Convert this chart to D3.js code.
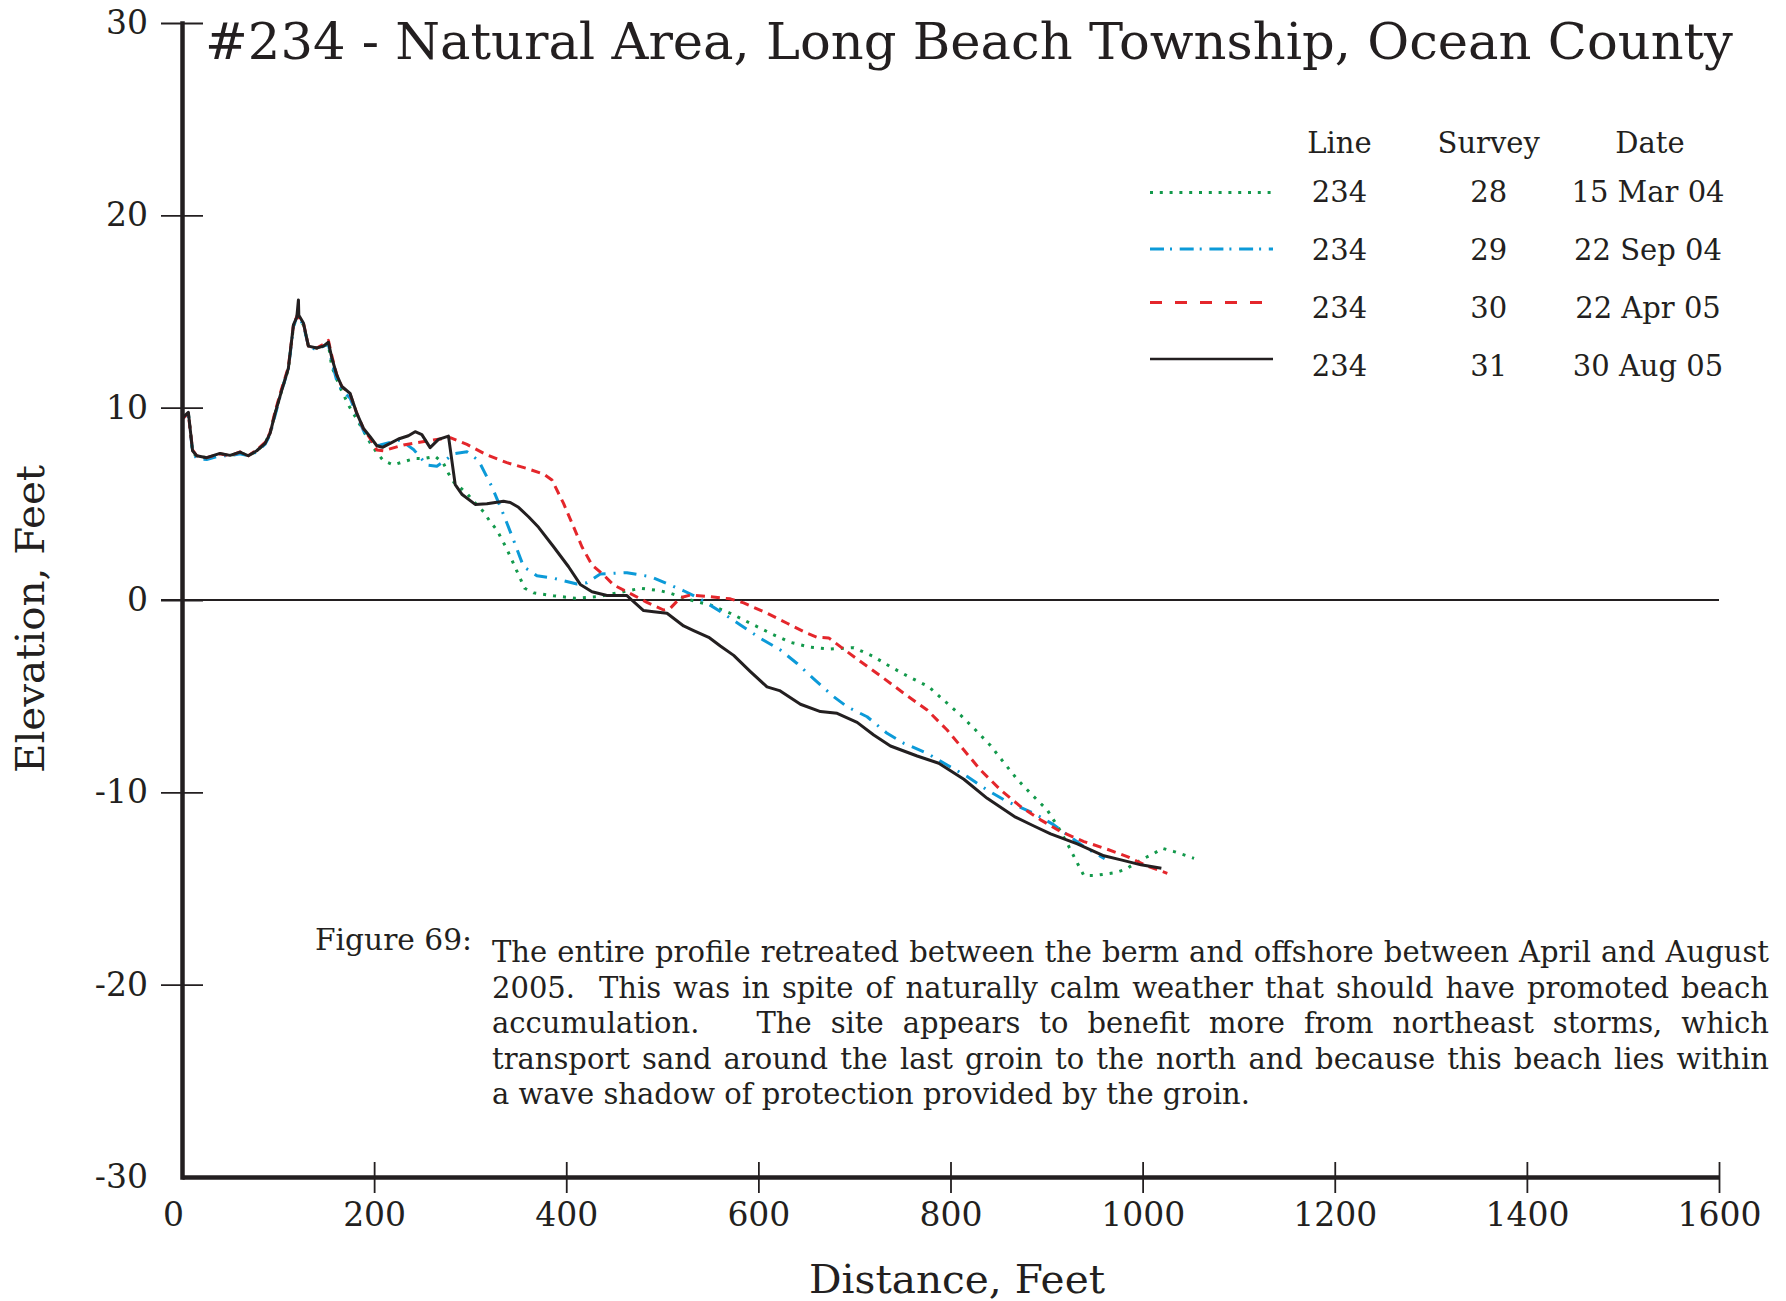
<!DOCTYPE html>
<html>
<head>
<meta charset="utf-8">
<title>#234 - Natural Area, Long Beach Township, Ocean County</title>
<script src="https://cdn.jsdelivr.net/npm/d3@7"></script>
<style>
  html, body { margin: 0; padding: 0; background: #fff; }
  svg { display: block; }
  text { font-family: "DejaVu Serif", "Liberation Serif", serif; fill: #231f20; }
</style>
</head>
<body>
<svg id="chart" width="1786" height="1301"></svg>
<script>
// ---- Profile data: [distance (ft), elevation (ft)] ----
const survey28 = [
  [0,9.4],[6.6,9.7],[11,7.7],[15.3,7.45],[25.7,7.4],[39.6,7.6],[50,7.5],[60.4,7.65],[69,7.5],[77.8,7.75],
  [86.5,8.15],[91.7,8.7],[96.9,9.7],[103.8,10.9],[110.7,12.0],[116,14.2],[120,14.8],[126.4,14.3],
  [131.6,13.2],[140.3,13.1],[147.2,13.2],[152.4,13.3],[155.9,12.13],[165,11.0],[174.3,10.05],
  [185.4,9.1],[195.8,8.18],[202.8,7.66],[209.7,7.24],[220.1,7.02],[230.6,7.19],[242.7,7.36],
  [251.4,7.35],[263.5,7.47],[272.2,7.1],[277.4,6.58],[283,6.12],[296.6,5.54],[307,4.94],[313.9,4.59],
  [320.8,4.07],[327.8,3.64],[338.2,2.65],[343.4,2.08],[348.6,1.5],[356.8,0.61],[366,0.37],[386.8,0.22],
  [409.4,0.09],[432,0.17],[454.6,0.38],[477.6,0.61],[498.1,0.48],[508.3,0.35],[529.2,0],[550,-0.26],
  [570.8,-0.69],[591.7,-1.21],[612.5,-1.73],[633.3,-2.2],[654.2,-2.46],[675,-2.55],[699.3,-2.48],
  [718.4,-2.9],[737.5,-3.47],[756.6,-3.99],[777.4,-4.51],[794.8,-5.29],[810.4,-5.98],[826.1,-6.76],
  [841.7,-7.57],[855.5,-8.45],[869.4,-9.32],[885,-10.14],[900.6,-10.91],[912.8,-11.87],[923.2,-12.82],
  [933.6,-13.83],[938.9,-14.33],[949.3,-14.33],[959.7,-14.26],[972.1,-14.17],[982.5,-14.0],
  [991.2,-13.72],[1001.6,-13.43],[1012,-13.17],[1020.6,-12.91],[1032.7,-13.08],[1043.1,-13.25],
  [1053.5,-13.43]
];

const survey29 = [
  [0,9.4],[6.6,9.7],[11,7.7],[15.3,7.35],[25.7,7.3],[39.6,7.5],[50,7.5],[60.4,7.6],[69,7.5],[77.8,7.7],
  [86.5,8.1],[91.7,8.6],[96.9,9.6],[103.8,10.9],[110.7,12.0],[116,14.2],[120,14.8],[126.4,14.3],
  [131.6,13.2],[140.3,13.0],[147.2,13.2],[152.4,13.3],[155.9,12.4],[161.1,11.4],[166.4,10.9],
  [175,10.5],[182,9.6],[188.9,8.8],[195.8,8.3],[201,8.0],[206.3,8.06],[227,8.32],[241,7.83],
  [254.9,7.02],[265.3,6.96],[272.2,7.19],[282.6,7.6],[296.6,7.71],[308.7,7.25],[322.6,5.89],
  [334.7,4.45],[345.1,3.12],[355.6,1.73],[369.5,1.26],[386.8,1.13],[411.1,0.83],[421.6,0.9],
  [435.4,1.35],[449.3,1.39],[463.2,1.42],[488.2,1.21],[508.3,0.78],[522.2,0.48],[539.6,0.05],
  [560.4,-0.6],[581.3,-1.3],[602.1,-1.99],[622.9,-2.6],[640.3,-3.3],[657.6,-4.1],[678.5,-5.03],
  [692.4,-5.55],[713.2,-6.07],[734,-6.93],[751.4,-7.45],[775.7,-7.97],[796.5,-8.58],[817.4,-9.18],
  [838.2,-9.88],[859,-10.48],[886.8,-11.09],[907.6,-11.69],[921.5,-12.21],[938.9,-12.82],[960.5,-13.45]
];

const survey30 = [
  [0,9.4],[6.6,9.7],[11,7.8],[15.3,7.5],[25.7,7.4],[39.6,7.6],[50,7.5],[60.4,7.7],[69,7.5],[77.8,7.8],
  [86.5,8.2],[91.7,8.7],[96.9,9.8],[103.8,11.0],[110.7,12.1],[116,14.3],[120,14.8],[126.4,14.4],
  [131.6,13.2],[140.3,13.1],[147.2,13.3],[152.4,13.5],[155.9,12.7],[161.1,11.7],[166.4,11.1],
  [175,10.7],[182,9.7],[188.9,8.9],[195.8,8.4],[202.8,7.8],[209.7,7.76],[230.6,8.06],[244.5,8.18],
  [261.8,8.32],[279.2,8.44],[296.6,8.09],[317.4,7.54],[338.2,7.14],[359,6.84],[376.4,6.55],
  [385.1,6.24],[397.2,5.02],[407.6,3.81],[416.3,2.77],[426.8,1.82],[438.9,1.3],[449.3,0.78],
  [463.2,0.43],[484,-0.12],[501.4,-0.52],[508.3,-0.43],[518.8,0.12],[529.2,0.26],[550,0.17],
  [570.8,0.06],[584.7,-0.15],[609,-0.69],[629.9,-1.21],[650.7,-1.73],[661.2,-1.94],[673.2,-1.97],
  [686,-2.45],[706.3,-3.2],[730.5,-4.07],[751.4,-4.85],[775.7,-5.72],[796.5,-6.76],[813.9,-7.8],
  [831.3,-8.84],[852.1,-9.88],[873,-10.74],[893.8,-11.43],[914.6,-12.04],[938.9,-12.56],
  [963.2,-12.96],[984,-13.34],[1004.9,-13.83],[1025.7,-14.21]
];

const survey31 = [
  [0,9.44],[6.6,9.76],[11,7.76],[15.3,7.5],[25.7,7.4],[39.6,7.62],[50,7.52],[60.4,7.69],[69,7.5],
  [77.8,7.76],[86.5,8.14],[91.7,8.66],[96.9,9.7],[103.8,10.9],[110.7,12.04],[116,14.3],[119.5,14.7],
  [121.2,15.6],[121.6,14.8],[126.4,14.4],[131.6,13.2],[140.3,13.1],[147.2,13.2],[152.4,13.4],
  [155.9,12.6],[161.1,11.7],[166.4,11.1],[175,10.74],[182,9.7],[188.9,8.92],[195.8,8.49],
  [202.8,8.02],[208.7,7.94],[216.7,8.14],[225.3,8.37],[235.7,8.54],[242.7,8.75],[249.7,8.6],
  [258.3,7.92],[267,8.35],[277.4,8.52],[284.4,6.0],[291.3,5.5],[305.2,4.97],[317.4,5.0],
  [334.7,5.13],[341.7,5.07],[350.3,4.82],[360.7,4.33],[371.2,3.78],[386.8,2.77],[402.4,1.73],
  [414.6,0.81],[426.8,0.43],[442.4,0.23],[463.2,0.23],[470.1,-0.09],[480.5,-0.55],[491,-0.61],
  [504.9,-0.69],[522.2,-1.35],[532.6,-1.59],[548.3,-1.94],[560.4,-2.39],[574.3,-2.88],[591.7,-3.72],
  [609,-4.52],[622,-4.71],[643.8,-5.42],[664.6,-5.8],[682,-5.89],[702.8,-6.36],[720.1,-7.02],
  [737.5,-7.59],[765.3,-8.11],[787.8,-8.49],[813.9,-9.32],[838.2,-10.31],[867.7,-11.29],
  [886.8,-11.75],[904.2,-12.16],[932,-12.68],[959.7,-13.3],[977.5,-13.51],[998.3,-13.77],
  [1019.5,-13.95]
];

// ---- Legend table ----
const lineIds    = ["234", "234", "234", "234"];
const surveyNums = ["28", "29", "30", "31"];
const surveyDates = ["15 Mar 04", "22 Sep 04", "22 Apr 05", "30 Aug 05"];

// ---- Axis ticks ----
const xTicks = [0, 200, 400, 600, 800, 1000, 1200, 1400, 1600];
const yTicks = [30, 20, 10, 0, -10, -20, -30];

// ---- Text ----
const titleText = "#234 - Natural Area, Long Beach Township, Ocean County";
const xLabel = "Distance, Feet";
const yLabel = "Elevation, Feet";
const figureLabel = "Figure 69:";
const captionLines = [
  "The entire profile retreated between the berm and offshore between April and August",
  "2005.  This was in spite of naturally calm weather that should have promoted beach",
  "accumulation.   The site appears to benefit more from northeast storms, which",
  "transport sand around the last groin to the north and because this beach lies within",
  "a wave shadow of protection provided by the groin."
];

// ---- Drawing ----
const INK = "#231f20";
const W = 1786, H = 1301;
const svg = d3.select("#chart");
svg.append("rect").attr("width", W).attr("height", H).attr("fill", "#fff");

const x = d3.scaleLinear().domain([0, 1600]).range([182, 1719]);
const y = d3.scaleLinear().domain([-30, 30]).range([1177, 23]);

// Stretch or squeeze a text element to an exact width.
function fit(sel, width) {
  sel.attr("textLength", width).attr("lengthAdjust", "spacingAndGlyphs");
  return sel;
}

// Zero-elevation reference line
svg.append("line")
  .attr("x1", x(0) - 21).attr("x2", x(1600))
  .attr("y1", y(0)).attr("y2", y(0))
  .attr("stroke", INK).attr("stroke-width", 2);

// Profiles (oldest survey first so the latest sits on top)
const series = [
  { data: survey28, color: "#12994b", width: 3,   dash: "3,7" },
  { data: survey29, color: "#0c9ad8", width: 3,   dash: "13,8,2,8" },
  { data: survey30, color: "#e4262b", width: 3,   dash: "9,6" },
  { data: survey31, color: INK,       width: 3,   dash: null }
];
const profile = d3.line().x(d => x(d[0])).y(d => y(d[1]));
svg.append("g").attr("class", "profiles")
  .selectAll("path").data(series).join("path")
  .attr("d", d => profile(d.data))
  .attr("fill", "none")
  .attr("stroke", d => d.color)
  .attr("stroke-width", d => d.width)
  .attr("stroke-dasharray", d => d.dash)
  .attr("stroke-linejoin", "round");

// Y axis
const gy = svg.append("g")
  .attr("transform", `translate(${x(0)},0)`)
  .call(d3.axisLeft(y).tickValues(yTicks).tickSize(21).tickSizeOuter(0)
        .tickPadding(13).tickFormat(d => String(d)));
gy.attr("font-family", null).attr("font-size", null);
gy.select(".domain").attr("stroke", INK).attr("stroke-width", 4.5).attr("stroke-linecap", "square");
gy.selectAll(".tick line")
  .attr("x1", -21).attr("x2", 21)
  .attr("stroke", INK).attr("stroke-width", 1.8)
  .attr("display", d => d === -30 ? "none" : null);
gy.selectAll(".tick text").attr("font-size", 33).attr("fill", INK);

// X axis
const gx = svg.append("g")
  .attr("transform", `translate(0,${y(-30)})`)
  .call(d3.axisBottom(x).tickValues(xTicks).tickSize(16).tickSizeOuter(0)
        .tickPadding(10).tickFormat(d => String(d)));
gx.attr("font-family", null).attr("font-size", null);
gx.select(".domain").attr("stroke", INK).attr("stroke-width", 4.5);
gx.selectAll(".tick line")
  .attr("y1", -15).attr("y2", 16)
  .attr("stroke", INK).attr("stroke-width", 1.8)
  .attr("display", d => d === 0 ? "none" : null);
gx.selectAll(".tick text").attr("font-size", 33).attr("fill", INK)
  .attr("dx", d => d === 0 ? -9 : 0);

// Axis titles
fit(svg.append("text")
  .attr("x", 957).attr("y", 1293)
  .attr("text-anchor", "middle").attr("font-size", 39)
  .text(xLabel), 296);

fit(svg.append("text")
  .attr("transform", "translate(44,619) rotate(-90)")
  .attr("text-anchor", "middle").attr("font-size", 39)
  .text(yLabel), 308);

// Title
fit(svg.append("text")
  .attr("x", 205).attr("y", 59)
  .attr("font-size", 51)
  .text(titleText), 1528);

// Legend table
const legend = svg.append("g").attr("class", "legend").attr("font-size", 29);
const colX = { line: 1339.5, survey: 1488.7, date: 1648 };
const headY = 153;
const rowY = [202, 260, 318, 376];
const sampleY = [192.5, 249, 302.5, 359];
const sampleX = [1150, 1273];
const legendDash = ["3,6.8", "14,6,2,7.7", "12,13", null];

[["Line", colX.line], ["Survey", colX.survey], ["Date", 1650]].forEach(([t, cx]) => {
  legend.append("text").attr("x", cx).attr("y", headY).attr("text-anchor", "middle").text(t);
});

const rows = legend.selectAll("g.row")
  .data(series.map((s, i) => ({ s, i })))
  .join("g").attr("class", "row");
rows.append("line")
  .attr("x1", sampleX[0]).attr("x2", sampleX[1])
  .attr("y1", d => sampleY[d.i]).attr("y2", d => sampleY[d.i])
  .attr("stroke", d => d.s.color)
  .attr("stroke-width", d => d.i === 3 ? 2.6 : 3)
  .attr("stroke-dasharray", d => legendDash[d.i]);
rows.append("text").attr("x", colX.line).attr("y", d => rowY[d.i])
  .attr("text-anchor", "middle").text(d => lineIds[d.i]);
rows.append("text").attr("x", colX.survey).attr("y", d => rowY[d.i])
  .attr("text-anchor", "middle").text(d => surveyNums[d.i]);
rows.append("text").attr("x", colX.date).attr("y", d => rowY[d.i])
  .attr("text-anchor", "middle").text(d => surveyDates[d.i]);

// Caption
const capFont = 29;
fit(svg.append("text")
  .attr("x", 315).attr("y", 950)
  .attr("font-size", capFont)
  .text(figureLabel), 157);

const capLeft = 492, capWidth = 1277;
const capY = [962, 998, 1033, 1069, 1104];
const capGroup = svg.append("g").attr("font-size", capFont);
const capTexts = captionLines.map((t, i) =>
  capGroup.append("text")
    .attr("x", 0).attr("y", capY[i])
    .style("white-space", "pre")
    .text(t));
const natural = capTexts.map(el => el.node().getComputedTextLength());
const widest = d3.max(natural.slice(0, natural.length - 1));
const k = Math.min(1, capWidth / widest);
capGroup.attr("transform", `translate(${capLeft},0) scale(${k},1)`);
capTexts.forEach((el, i) => {
  if (i === capTexts.length - 1) return;
  const spaces = (captionLines[i].match(/ /g) || []).length;
  const extra = capWidth / k - natural[i];
  if (extra > 0.5 && spaces > 0) el.attr("word-spacing", extra / spaces);
});
</script>
</body>
</html>
